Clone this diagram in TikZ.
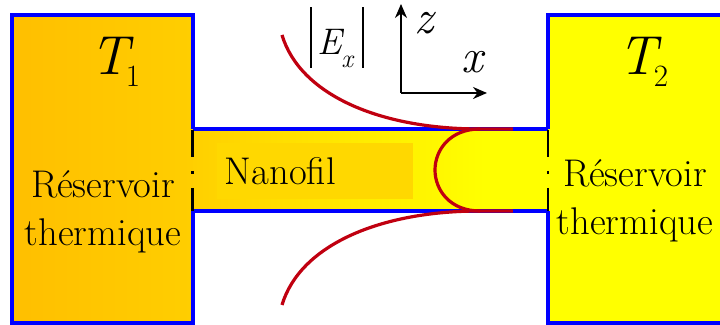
\documentclass[tikz,border=0pt]{standalone}
\usetikzlibrary{arrows.meta}

\definecolor{wallblue}{HTML}{0000FF}
\definecolor{hotgold}{HTML}{FFBF00}
\definecolor{warmgold}{HTML}{FFCE00}
\definecolor{wiregold}{HTML}{FFD000}
\definecolor{labelgold}{HTML}{FFD800}
\definecolor{coldyellow}{HTML}{FFFF00}
\definecolor{fieldred}{HTML}{C00010}

\pgfdeclarehorizontalshading{wireshade}{100bp}{color(0bp)=(wiregold); color(25bp)=(wiregold); color(66bp)=(coldyellow); color(100bp)=(coldyellow)}

\newcommand\tsub[1]{\textit{T}\kern-4pt\raisebox{-6pt}{\fontsize{15.5}{15.5}\selectfont #1}}

\begin{document}
\begin{tikzpicture}[
    x=0.5pt, y=-0.5pt,
    wall/.style={draw=wallblue, line width=1.6pt},
    junction/.style={draw=black, line width=1.5pt, dash pattern=on 13.5pt off 7pt on 1.5pt off 7pt on 13pt},
    field/.style={draw=fieldred, line width=1.6pt},
    axis/.style={-{Stealth[length=7pt,width=6pt]}, line width=1pt},
    txt/.style={font=\fontsize{19.3}{24}\selectfont, inner sep=0pt, align=center},
    temp/.style={font=\fontsize{27.5}{27.5}\selectfont, inner sep=0pt, anchor=base west},
    coord/.style={font=\fontsize{24}{24}\selectfont\itshape, inner sep=0pt, anchor=base west}
  ]
    \clip (0,0) rectangle (720,325);

    % reservoirs
    \fill[left color=hotgold, right color=warmgold] (12,15) rectangle (193,323);
    \fill[coldyellow] (548,15) rectangle (730,323);
    % nanowire
    \fill[shading=wireshade] (193,129) rectangle (548,211);
    \node[txt, fill=labelgold, minimum width=98pt, minimum height=28pt, text width=90pt, align=left] (wire) at (315,171) {Nanofil};

    \draw[wall] (193,129) -- (193,15) -- (12,15) -- (12,323) -- (193,323) -- (193,211);
    \draw[wall] (548,129) -- (548,15) -- (730,15);
    \draw[wall] (548,211) -- (548,323) -- (730,323);
    \draw[wall] (193,129) -- (548,129);
    \draw[wall] (193,211) -- (548,211);
    \draw[junction] (193,130) -- (193,211);
    \draw[junction, line width=1pt] (548,130) -- (548,211);

    % field profile
    \draw[field] (282,35) .. controls (300,95) and (380,129) .. (480,129) -- (513,129);
    \draw[field] (282,305) .. controls (300,245) and (380,211) .. (480,211) -- (513,211);
    \draw[field] (480,129) .. controls (450,129) and (435,150) .. (435,170)
                 .. controls (435,190) and (450,211) .. (480,211);

    % axes
    \coordinate (orig) at (401,93);
    \coordinate (ztip) at (401,4);
    \coordinate (xtip) at (487,93);
    \draw[axis] (orig) -- (ztip);
    \draw[axis] (orig) -- (xtip);
    \node[coord] (zlab) at (414,34) {z};
    \node[coord] (xlab) at (461,73) {x};
    \node[font=\fontsize{18.5}{19}\selectfont, inner sep=0pt, anchor=base west] (Ex) at (310,55)
      {\rule[-6.5pt]{1pt}{30.5pt}\kern2.5pt\textit{E}\kern-1.5pt\raisebox{-6.5pt}{\fontsize{13}{13}\selectfont\textit{x}}\kern3.5pt\rule[-6.5pt]{1pt}{30.5pt}};

    % labels
    \node[temp] (T1) at (90,75) {\tsub{1}};
    \node[temp] (T2) at (618,75) {\tsub{2}};
    \node[txt] (res1) at (103,212) {Réservoir\\thermique};
    \node[txt] (res2) at (635,201) {Réservoir\\thermique};
  \end{tikzpicture}
\end{document}
